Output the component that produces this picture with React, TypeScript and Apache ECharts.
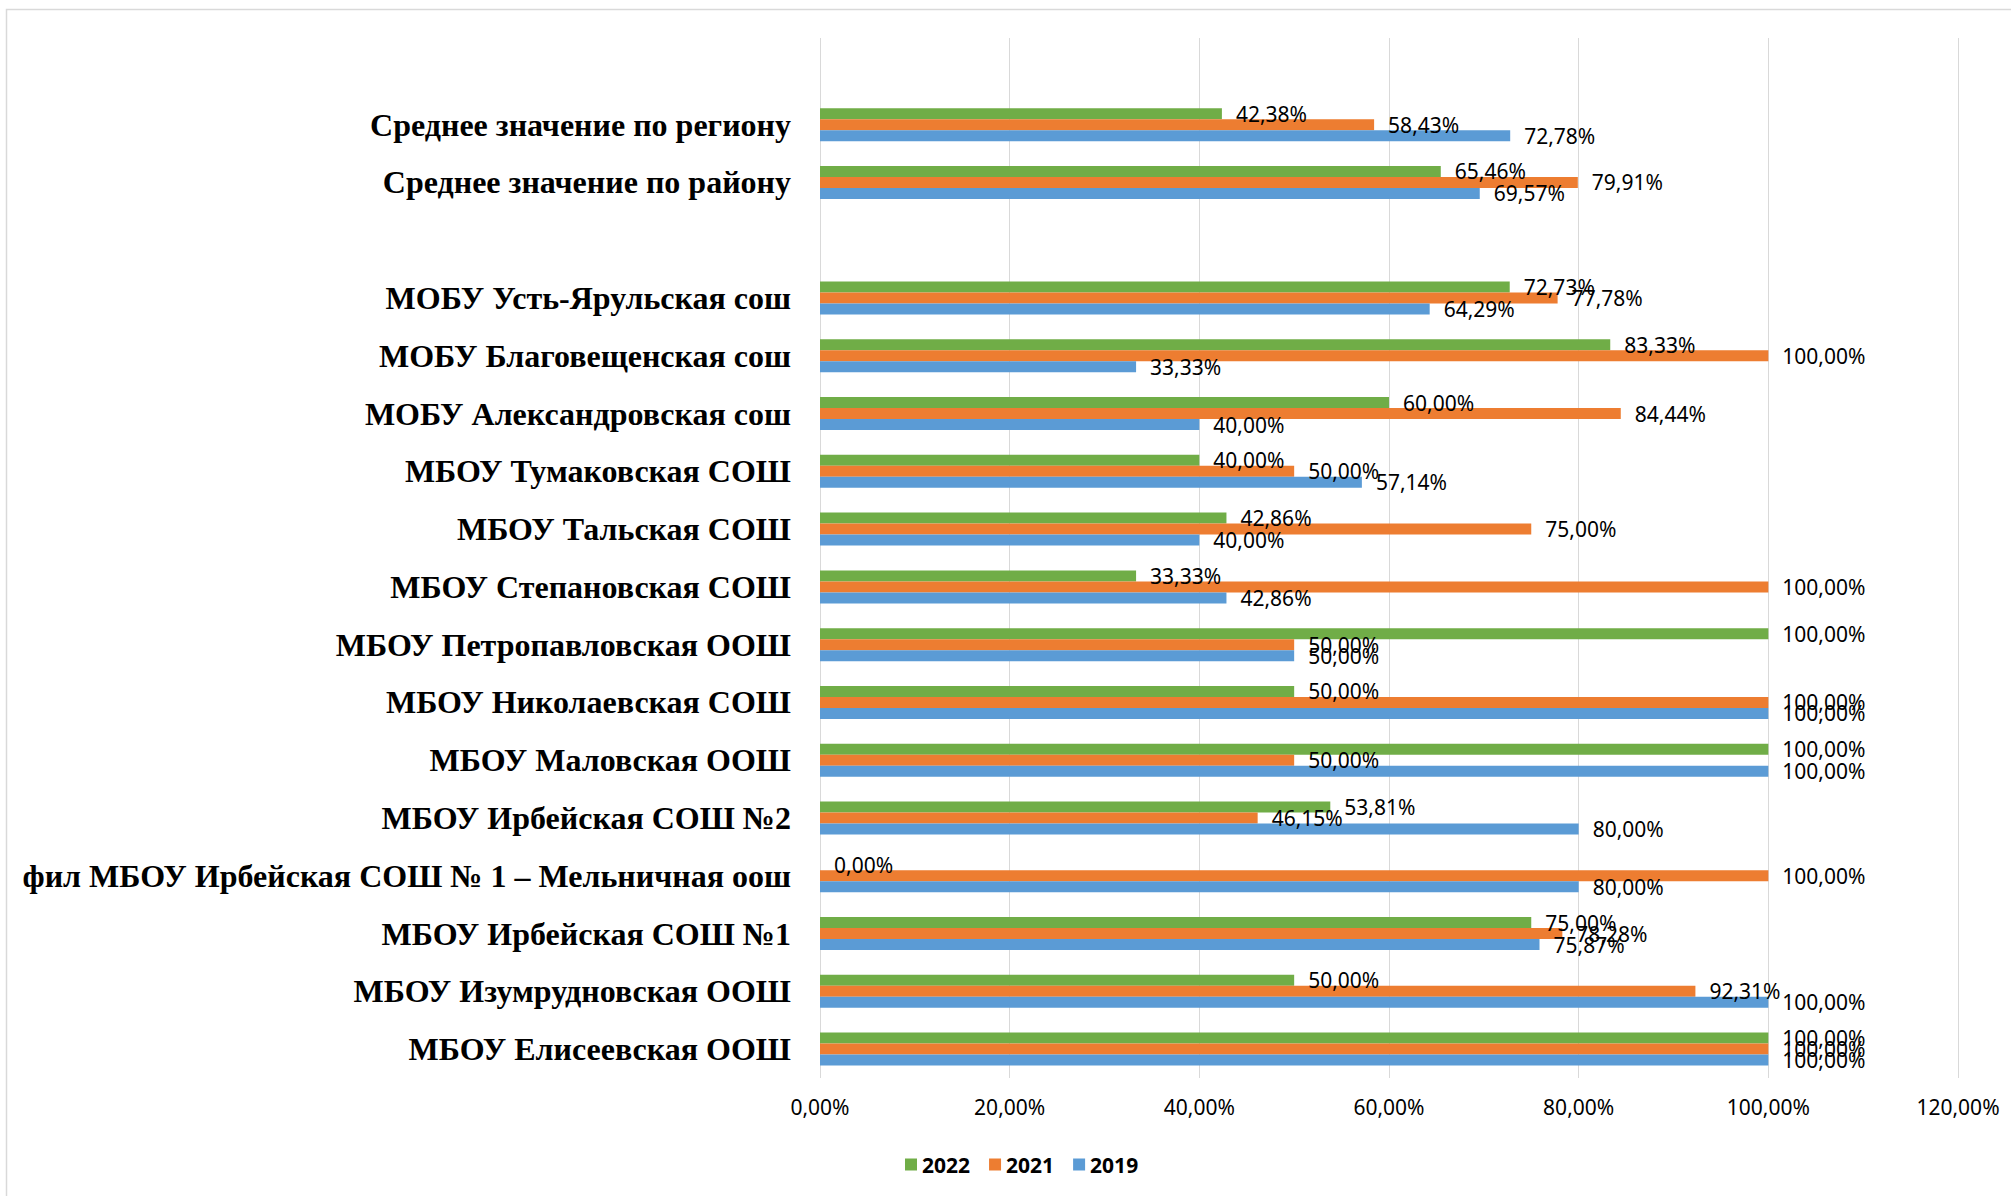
import React, { useEffect, useRef } from "react";
import * as echarts from "echarts";

const categories = [
  "",
  "Среднее значение по региону",
  "Среднее значение по району",
  " ",
  "МОБУ Усть-Ярульская сош",
  "МОБУ Благовещенская сош",
  "МОБУ Александровская сош",
  "МБОУ Тумаковская СОШ",
  "МБОУ Тальская СОШ",
  "МБОУ Степановская СОШ",
  "МБОУ Петропавловская ООШ",
  "МБОУ Николаевская СОШ",
  "МБОУ Маловская ООШ",
  "МБОУ Ирбейская СОШ №2",
  "фил МБОУ Ирбейская СОШ № 1 – Мельничная оош",
  "МБОУ Ирбейская СОШ №1",
  "МБОУ Изумрудновская ООШ",
  "МБОУ Елисеевская ООШ",
];

const values2022 = [null, 42.38, 65.46, null, 72.73, 83.33, 60.0, 40.0, 42.86, 33.33, 100, 50.0, 100, 53.81, 0.0, 75.0, 50.0, 100];
const values2021 = [null, 58.43, 79.91, null, 77.78, 100, 84.44, 50.0, 75.0, 100, 50.0, 100, 50.0, 46.15, 100, 78.28, 92.31, 100];
const values2019 = [null, 72.78, 69.57, null, 64.29, 33.33, 40.0, 57.14, 40.0, 42.86, 50.0, 100, 100, 80.0, 80.0, 75.87, 100, 100];

const seriesNames = ["2022", "2021", "2019"];
const seriesColors = ["#70AD47", "#ED7D31", "#5B9BD5"];

const fmt = (v: number) => v.toFixed(2).replace(".", ",") + "%";
const numFont = "'Noto Sans', sans-serif";

export default function App() {
  const ref = useRef<HTMLDivElement>(null);
  useEffect(() => {
    if (!ref.current) return;
    const chart = echarts.init(ref.current, undefined, { renderer: "svg" });
    const all = [values2022, values2021, values2019];
    chart.setOption({
      animation: false,
      backgroundColor: "#ffffff",
      graphic: [
        {
          type: "rect",
          shape: { x: 6.5, y: 9.5, width: 2010, height: 1195 },
          style: { fill: "none", stroke: "#d9d9d9", lineWidth: 1.5 },
          silent: true,
        },
      ],
      grid: { left: 820, right: 53, top: 38, bottom: 118, containLabel: false },
      legend: {
        left: 900,
        top: 1149,
        itemWidth: 12,
        itemHeight: 12,
        itemGap: 19,
        icon: "rect",
        data: seriesNames,
        textStyle: { fontFamily: numFont, fontWeight: "bold", fontSize: 21, color: "#000" },
      },
      xAxis: {
        type: "value",
        min: 0,
        max: 120,
        interval: 20,
        axisLine: { show: false },
        axisTick: { show: false },
        splitLine: { show: true, lineStyle: { color: "#d9d9d9", width: 1 } },
        axisLabel: {
          margin: 18,
          formatter: (v: number) => fmt(v),
          fontFamily: numFont,
          fontSize: 21,
          color: "#000",
        },
      },
      yAxis: {
        type: "category",
        inverse: true,
        data: categories,
        axisLine: { show: false },
        axisTick: { show: false },
        axisLabel: {
          margin: 29,
          fontFamily: "'Liberation Serif', serif",
          fontWeight: "bold",
          fontSize: 32,
          color: "#000",
        },
      },
      series: seriesNames.map((name, i) => ({
        name,
        type: "bar",
        data: all[i],
        barWidth: 11,
        barGap: "0%",
        itemStyle: { color: seriesColors[i] },
        label: {
          show: true,
          position: "right",
          distance: 14,
          formatter: (p: any) => fmt(p.value),
          fontFamily: numFont,
          fontSize: 21,
          color: "#000",
        },
      })),
    });
    return () => chart.dispose();
  }, []);
  return (
    <div
      ref={ref}
      style={{ position: "fixed", left: 0, top: 0, width: 2011, height: 1196 }}
    />
  );
}
